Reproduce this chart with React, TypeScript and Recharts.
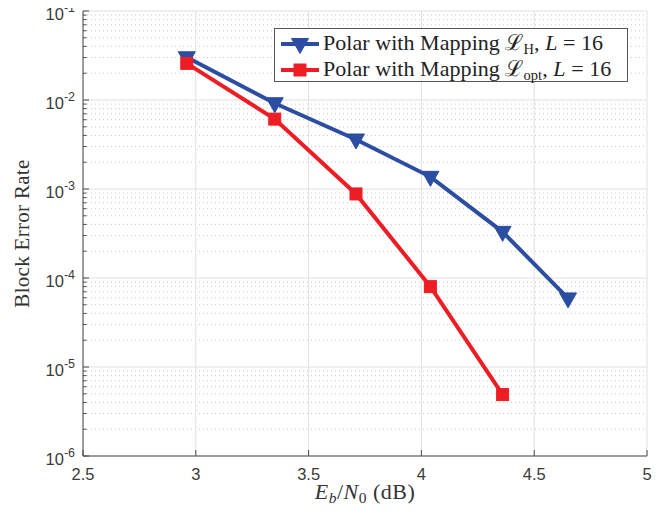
import React from "react";
import {
  LineChart,
  Line,
  XAxis,
  YAxis,
  CartesianGrid,
  Legend,
} from "recharts";

// ---- data ----
const snrDb = [2.96, 3.35, 3.71, 4.04, 4.36, 4.65];
const blerH = [0.0302, 0.0092, 0.0036, 0.00137, 0.00033, 0.000059];
const blerOpt = [0.0258, 0.0061, 0.00088, 0.00008, 0.0000049];

const seriesNames = ["Polar with Mapping ℒH, L = 16", "Polar with Mapping ℒopt, L = 16"];
const seriesSubscripts = ["H", "opt"];

// ---- ticks ----
const xTicks = [2.5, 3, 3.5, 4, 4.5, 5];
const xTickLabels = ["2.5", "3", "3.5", "4", "4.5", "5"];
const yMajor = [1e-6, 1e-5, 1e-4, 1e-3, 1e-2, 1e-1];
const yExponents = ["-6", "-5", "-4", "-3", "-2", "-1"];
const minorMultipliers = [2, 3, 4, 5, 6, 7, 8, 9];
const yMinor = yMajor.slice(0, -1).flatMap((m) => minorMultipliers.map((k) => m * k));
const yAllTicks = [...yMajor, ...yMinor].sort((a, b) => a - b);

const dataH = snrDb.map((x, i) => ({ x, y: blerH[i] }));
const dataOpt = blerOpt.map((y, i) => ({ x: snrDb[i], y }));

const BLUE = "#2b4ea2";
const RED = "#ee1d24";
const AXIS = "#4a4a4a";
const TICKTEXT = "#3a3a3a";
const SANS = "'Liberation Sans', Arial, Helvetica, sans-serif";
const SERIF = "'Liberation Serif', 'Times New Roman', serif";

const majorIndex = (v: number) => yMajor.findIndex((m) => Math.abs(v / m - 1) < 1e-6);

const LeftYTick = (props: any) => {
  const { x, y, payload } = props;
  const idx = majorIndex(payload.value);
  const major = idx >= 0;
  return (
    <g>
      <line x1={x} x2={x + (major ? 6 : 3.5)} y1={y} y2={y} stroke={AXIS} strokeWidth={1} />
      {major && (
        <text x={x - 8} y={y + 9} textAnchor="end" fontFamily={SANS} fontSize={16.5} fill={TICKTEXT}>
          10
          <tspan dy={-8.5} fontSize={12.5}>
            {yExponents[idx]}
          </tspan>
        </text>
      )}
    </g>
  );
};

const RightYTick = (props: any) => {
  const { x, y, payload } = props;
  const major = majorIndex(payload.value) >= 0;
  return (
    <line x1={x} x2={x - (major ? 6 : 3.5)} y1={y} y2={y} stroke={AXIS} strokeWidth={1} />
  );
};

const BottomXTick = (props: any) => {
  const { x, y, payload, index } = props;
  return (
    <g>
      <line x1={x} x2={x} y1={y} y2={y - 6} stroke={AXIS} strokeWidth={1} />
      <text x={x} y={y + 24} textAnchor="middle" fontFamily={SANS} fontSize={16.5} fill={TICKTEXT}>
        {xTickLabels[index] ?? String(payload.value)}
      </text>
    </g>
  );
};

const TopXTick = (props: any) => {
  const { x, y } = props;
  return <line x1={x} x2={x} y1={y} y2={y + 6} stroke={AXIS} strokeWidth={1} />;
};

const TriangleDot = (props: any) => {
  const { cx, cy, index } = props;
  if (cx == null || cy == null) return <g key={`t-${index}`} />;
  const d = `M${cx - 8.5},${cy - 5.5} L${cx + 8.5},${cy - 5.5} L${cx},${cy + 9.5} Z`;
  return <path key={`t-${index}`} d={d} fill={BLUE} stroke={BLUE} strokeWidth={1} />;
};

const SquareDot = (props: any) => {
  const { cx, cy, index } = props;
  if (cx == null || cy == null) return <g key={`s-${index}`} />;
  return (
    <rect key={`s-${index}`} x={cx - 6} y={cy - 6} width={12} height={12} fill={RED} stroke={RED} strokeWidth={1} />
  );
};

const XLabel = (props: any) => {
  const { viewBox } = props;
  const cx = viewBox.x + viewBox.width / 2;
  return (
    <text x={cx} y={499} textAnchor="middle" fontFamily={SERIF} fontSize={22} letterSpacing={0.5} fill="#333">
      <tspan fontStyle="italic">E</tspan>
      <tspan fontStyle="italic" fontSize={15.5} dy={4}>b</tspan>
      <tspan dy={-4}>/</tspan>
      <tspan fontStyle="italic">N</tspan>
      <tspan fontSize={15.5} dy={4}>0</tspan>
      <tspan dy={-4}>{" (dB)"}</tspan>
    </text>
  );
};

const YLabel = (props: any) => {
  const { viewBox } = props;
  const cy = viewBox.y + viewBox.height / 2;
  const cx = 22;
  return (
    <text
      x={cx}
      y={cy}
      transform={`rotate(-90 ${cx} ${cy})`}
      textAnchor="middle"
      dominantBaseline="central"
      fontFamily={SERIF}
      fontSize={21}
      letterSpacing={0.3}
      fill="#333"
    >
      Block Error Rate
    </text>
  );
};

const LegendMarker = ({ i }: { i: number }) => (
  <svg width={48} height={26} style={{ display: "block", flex: "none" }}>
    <line x1={6} x2={44} y1={13} y2={13} stroke={i === 0 ? BLUE : RED} strokeWidth={4} />
    {i === 0 ? (
      <path d="M16.5,7.5 L33.5,7.5 L25,22.5 Z" fill={BLUE} stroke={BLUE} />
    ) : (
      <rect x={19} y={7} width={12} height={12} fill={RED} stroke={RED} />
    )}
  </svg>
);

const LegendBox = () => (
  <div
    style={{
      width: 352,
      height: 52,
      border: "1px solid #555",
      background: "#fff",
      position: "relative",
      fontFamily: SERIF,
      fontSize: 22,
      letterSpacing: 0.05,
      color: "#222",
      boxSizing: "content-box",
    }}
  >
    {seriesNames.map((name, i) => (
      <div
        key={name}
        style={{
          position: "absolute",
          left: 0,
          top: i === 0 ? 1.5 : 27.5,
          height: 26,
          display: "flex",
          alignItems: "center",
          whiteSpace: "nowrap",
        }}
      >
        <LegendMarker i={i} />
        <span style={{ lineHeight: "26px" }}>
          {"Polar with Mapping "}
          <span>ℒ</span>
          <span style={{ fontSize: 14.5, position: "relative", top: 4 }}>{seriesSubscripts[i]}</span>
          {", "}
          <i>L</i>
          {" = 16"}
        </span>
      </div>
    ))}
  </div>
);

export default function App() {
  return (
    <div style={{ width: 672, height: 515, margin: "-8px 0 0 -8px" }}>
      <LineChart
        width={672}
        height={515}
        margin={{ top: 11, right: 25, bottom: 0, left: 0 }}
      >
        <CartesianGrid
          horizontalValues={yMinor}
          vertical={false}
          stroke="#c8c8c8"
          strokeDasharray="1 3"
        />
        <CartesianGrid
          horizontalValues={yMajor}
          verticalValues={xTicks}
          stroke="#e0e0e0"
        />
        <XAxis
          dataKey="x"
          type="number"
          domain={[2.5, 5]}
          allowDataOverflow
          ticks={xTicks}
          interval={0}
          height={59}
          tickSize={0}
          tickMargin={0}
          tickLine={false}
          axisLine={{ stroke: AXIS, strokeWidth: 1 }}
          tick={BottomXTick}
          label={<XLabel />}
        />
        <XAxis
          xAxisId="top"
          orientation="top"
          dataKey="x"
          type="number"
          domain={[2.5, 5]}
          allowDataOverflow
          ticks={xTicks}
          interval={0}
          height={0}
          tickSize={0}
          tickMargin={0}
          tickLine={false}
          axisLine={{ stroke: AXIS, strokeWidth: 1 }}
          tick={TopXTick}
        />
        <YAxis
          dataKey="y"
          type="number"
          scale="log"
          domain={[1e-6, 1e-1]}
          allowDataOverflow
          ticks={yAllTicks}
          interval={0}
          width={83}
          tickSize={0}
          tickMargin={0}
          tickLine={false}
          axisLine={{ stroke: AXIS, strokeWidth: 1 }}
          tick={LeftYTick}
          label={<YLabel />}
        />
        <YAxis
          yAxisId="right"
          orientation="right"
          dataKey="y"
          type="number"
          scale="log"
          domain={[1e-6, 1e-1]}
          allowDataOverflow
          ticks={yAllTicks}
          interval={0}
          width={0}
          tickSize={0}
          tickMargin={0}
          tickLine={false}
          axisLine={{ stroke: AXIS, strokeWidth: 1 }}
          tick={RightYTick}
        />
        <Legend
          layout="vertical"
          align="center"
          verticalAlign="middle"
          content={<LegendBox />}
          wrapperStyle={{ top: 28, left: 274, width: 354, height: 54 }}
        />
        <Line
          data={dataH}
          dataKey="y"
          name={seriesNames[0]}
          stroke={BLUE}
          strokeWidth={4}
          dot={TriangleDot}
          activeDot={false}
          isAnimationActive={false}
        />
        <Line
          data={dataOpt}
          dataKey="y"
          name={seriesNames[1]}
          stroke={RED}
          strokeWidth={4}
          dot={SquareDot}
          activeDot={false}
          isAnimationActive={false}
        />
      </LineChart>
    </div>
  );
}
